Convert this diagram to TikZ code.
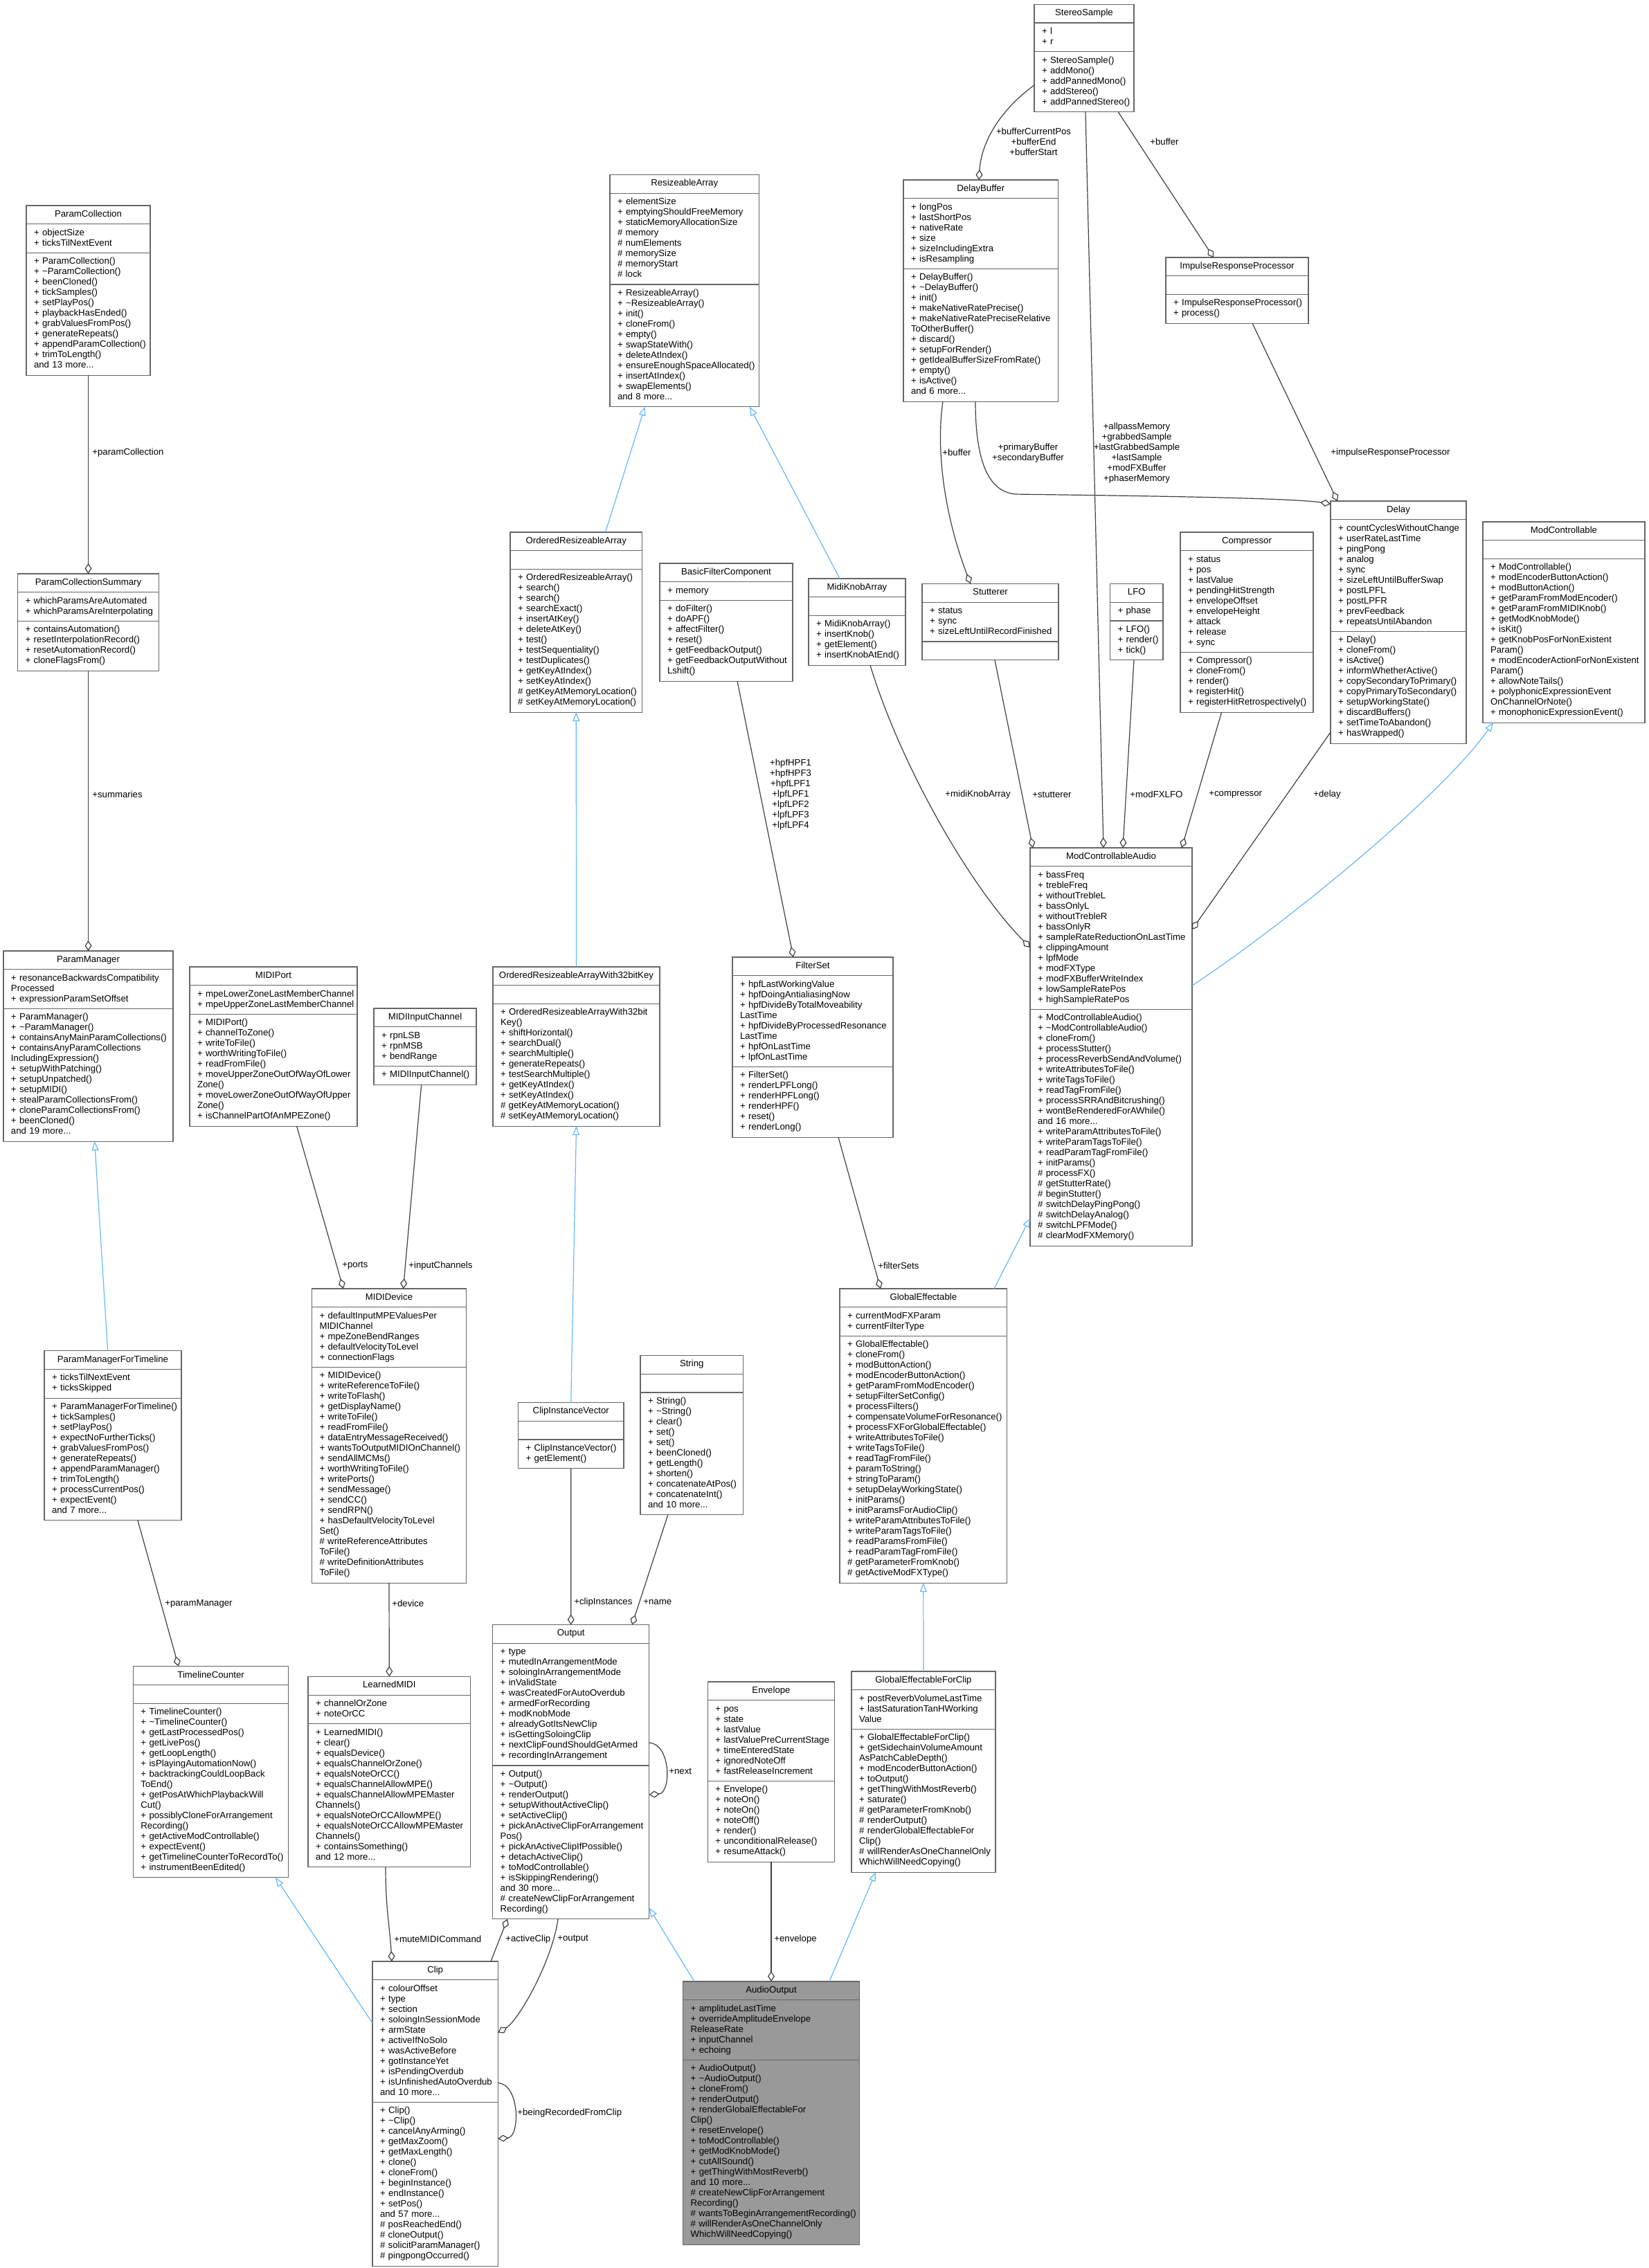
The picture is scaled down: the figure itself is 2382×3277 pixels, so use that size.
\documentclass[tikz,border=0pt]{standalone}
\usepackage{fontspec}
\setmainfont{Liberation Sans}
\usetikzlibrary{shapes.multipart,arrows.meta,calc}

\definecolor{boxgray}{HTML}{666666}
\definecolor{edgegray}{HTML}{404040}
\definecolor{inhblue}{HTML}{63B8FF}
\definecolor{aogray}{HTML}{999999}

\def\umlfont{\fontsize{6.6pt}{7.5pt}\selectfont\hyphenpenalty=10000\exhyphenpenalty=10000}
\def\umlclass[#1](#2)(#3,#4:#5)#6#7#8{%
	\pgfmathsetlengthmacro\boxtw{(#5-22)*0.5pt}%
	\node[classbox, text width=\boxtw, #1] (#2) at (#3,#4)
		{\hbox to \boxtw{\hss\strut#6\strut\hss}\nodepart{two}\strut#7\strut\nodepart{three}\strut#8\strut};}

\tikzset{
	classbox/.style={rectangle split, rectangle split parts=3, draw=boxgray, line width=0.6pt, fill=white,
		anchor=north west, inner xsep=5.5pt, inner ysep=2.625pt, outer sep=0pt, align=left, font=\umlfont},
	aggr/.style={draw=edgegray, line width=0.6pt, {Diamond[open,length=7.5pt,width=5pt]}-},
	inh/.style={draw=inhblue, line width=0.6pt, {Triangle[open,length=6.5pt,width=5pt]}-},
	elabel/.style={font=\umlfont, inner sep=0pt, anchor=west},
	mlabel/.style={font=\umlfont, inner sep=0pt, align=center},
}

\begin{document}
\begin{tikzpicture}[x=0.5pt, y=-0.5pt]
			%%%%% START %%%%%
			\path[use as bounding box, fill=white] (0,0) rectangle (2382,3277);
			
			% top rows
			\umlclass[](pcoll)(38,297:179){ParamCollection}
				{+~objectSize\\+~ticksTilNextEvent}
				{+~ParamCollection()\\+~\textasciitilde ParamCollection()\\+~beenCloned()\\+~tickSamples()\\+~setPlayPos()\\+~playbackHasEnded()\\+~grabValuesFromPos()\\+~generateRepeats()\\+~appendParamCollection()\\+~trimToLength()\\and 13 more...}
			\umlclass[](rarr)(881,252.6:215.4){ResizeableArray}
				{+~elementSize\\+~emptyingShouldFreeMemory\\+~staticMemoryAllocationSize\\\#~memory\\\#~numElements\\\#~memorySize\\\#~memoryStart\\\#~lock}
				{+~ResizeableArray()\\+~\textasciitilde ResizeableArray()\\+~init()\\+~cloneFrom()\\+~empty()\\+~swapStateWith()\\+~deleteAtIndex()\\+~ensureEnoughSpaceAllocated()\\+~insertAtIndex()\\+~swapElements()\\and 8 more...}
			\umlclass[](stereo)(1494,6.3:144){StereoSample}
				{+~l\\+~r}
				{+~StereoSample()\\+~addMono()\\+~addPannedMono()\\+~addStereo()\\+~addPannedStereo()}
			\umlclass[](dbuf)(1305,260:223.6){DelayBuffer}
				{+~longPos\\+~lastShortPos\\+~nativeRate\\+~size\\+~sizeIncludingExtra\\+~isResampling}
				{+~DelayBuffer()\\+~\textasciitilde DelayBuffer()\\+~init()\\+~makeNativeRatePrecise()\\+~makeNativeRatePreciseRelative\\ToOtherBuffer()\\+~discard()\\+~setupForRender()\\+~getIdealBufferSizeFromRate()\\+~empty()\\+~isActive()\\and 6 more...}
			\umlclass[](irp)(1684,372:206){ImpulseResponseProcessor}
				{}
				{+~ImpulseResponseProcessor()\\+~process()}
			
			% effect classes
			\umlclass[](pcsum)(25.5,829:204){ParamCollectionSummary}
				{+~whichParamsAreAutomated\\+~whichParamsAreInterpolating}
				{+~containsAutomation()\\+~resetInterpolationRecord()\\+~resetAutomationRecord()\\+~cloneFlagsFrom()}
			\umlclass[](ora)(737,769:190.5){OrderedResizeableArray}
				{}
				{+~OrderedResizeableArray()\\+~search()\\+~search()\\+~searchExact()\\+~insertAtKey()\\+~deleteAtKey()\\+~test()\\+~testSequentiality()\\+~testDuplicates()\\+~getKeyAtIndex()\\+~setKeyAtIndex()\\\#~getKeyAtMemoryLocation()\\\#~setKeyAtMemoryLocation()}
			\umlclass[](bfc)(953,814:192){BasicFilterComponent}
				{+~memory}
				{+~doFilter()\\+~doAPF()\\+~affectFilter()\\+~reset()\\+~getFeedbackOutput()\\+~getFeedbackOutputWithout\\Lshift()}
			\umlclass[](mknob)(1168,836:140){MidiKnobArray}
				{}
				{+~MidiKnobArray()\\+~insertKnob()\\+~getElement()\\+~insertKnobAtEnd()}
			\umlclass[](stut)(1332,843.5:197){Stutterer}
				{+~status\\+~sync\\+~sizeLeftUntilRecordFinished}
				{}
			\umlclass[](lfo)(1603.5,843.5:76.5){LFO}
				{+~phase}
				{+~LFO()\\+~render()\\+~tick()}
			\umlclass[](comp)(1705,769:192){Compressor}
				{+~status\\+~pos\\+~lastValue\\+~pendingHitStrength\\+~envelopeOffset\\+~envelopeHeight\\+~attack\\+~release\\+~sync}
				{+~Compressor()\\+~cloneFrom()\\+~render()\\+~registerHit()\\+~registerHitRetrospectively()}
			\umlclass[](delay)(1922,724:196){Delay}
				{+~countCyclesWithoutChange\\+~userRateLastTime\\+~pingPong\\+~analog\\+~sync\\+~sizeLeftUntilBufferSwap\\+~postLPFL\\+~postLPFR\\+~prevFeedback\\+~repeatsUntilAbandon}
				{+~Delay()\\+~cloneFrom()\\+~isActive()\\+~informWhetherActive()\\+~copySecondaryToPrimary()\\+~copyPrimaryToSecondary()\\+~setupWorkingState()\\+~discardBuffers()\\+~setTimeToAbandon()\\+~hasWrapped()}
			\umlclass[](modc)(2142,754:234){ModControllable}
				{}
				{+~ModControllable()\\+~modEncoderButtonAction()\\+~modButtonAction()\\+~getParamFromModEncoder()\\+~getParamFromMIDIKnob()\\+~getModKnobMode()\\+~isKit()\\+~getKnobPosForNonExistent\\Param()\\+~modEncoderActionForNonExistent\\Param()\\+~allowNoteTails()\\+~polyphonicExpressionEvent\\OnChannelOrNote()\\+~monophonicExpressionEvent()}
			
			% middle rows
			\umlclass[](pman)(5,1374:245){ParamManager}
				{+~resonanceBackwardsCompatibility\\Processed\\+~expressionParamSetOffset}
				{+~ParamManager()\\+~\textasciitilde ParamManager()\\+~containsAnyMainParamCollections()\\+~containsAnyParamCollections\\IncludingExpression()\\+~setupWithPatching()\\+~setupUnpatched()\\+~setupMIDI()\\+~stealParamCollectionsFrom()\\+~cloneParamCollectionsFrom()\\+~beenCloned()\\and 19 more...}
			\umlclass[](mport)(274,1397:242){MIDIPort}
				{+~mpeLowerZoneLastMemberChannel\\+~mpeUpperZoneLastMemberChannel}
				{+~MIDIPort()\\+~channelToZone()\\+~writeToFile()\\+~worthWritingToFile()\\+~readFromFile()\\+~moveUpperZoneOutOfWayOfLower\\Zone()\\+~moveLowerZoneOutOfWayOfUpper\\Zone()\\+~isChannelPartOfAnMPEZone()}
			\umlclass[](minch)(540,1457:148){MIDIInputChannel}
				{+~rpnLSB\\+~rpnMSB\\+~bendRange}
				{+~MIDIInputChannel()}
			\umlclass[](ora32)(712,1397:241){OrderedResizeableArrayWith32bitKey}
				{}
				{+~OrderedResizeableArrayWith32bit\\Key()\\+~shiftHorizontal()\\+~searchDual()\\+~searchMultiple()\\+~generateRepeats()\\+~testSearchMultiple()\\+~getKeyAtIndex()\\+~setKeyAtIndex()\\\#~getKeyAtMemoryLocation()\\\#~setKeyAtMemoryLocation()}
			\umlclass[](fset)(1058,1383:232){FilterSet}
				{+~hpfLastWorkingValue\\+~hpfDoingAntialiasingNow\\+~hpfDivideByTotalMoveability\\LastTime\\+~hpfDivideByProcessedResonance\\LastTime\\+~hpfOnLastTime\\+~lpfOnLastTime}
				{+~FilterSet()\\+~renderLPFLong()\\+~renderHPFLong()\\+~renderHPF()\\+~reset()\\+~renderLong()}
			\umlclass[](mca)(1488,1225:234){ModControllableAudio}
				{+~bassFreq\\+~trebleFreq\\+~withoutTrebleL\\+~bassOnlyL\\+~withoutTrebleR\\+~bassOnlyR\\+~sampleRateReductionOnLastTime\\+~clippingAmount\\+~lpfMode\\+~modFXType\\+~modFXBufferWriteIndex\\+~lowSampleRatePos\\+~highSampleRatePos}
				{+~ModControllableAudio()\\+~\textasciitilde ModControllableAudio()\\+~cloneFrom()\\+~processStutter()\\+~processReverbSendAndVolume()\\+~writeAttributesToFile()\\+~writeTagsToFile()\\+~readTagFromFile()\\+~processSRRAndBitcrushing()\\+~wontBeRenderedForAWhile()\\and 16 more...\\+~writeParamAttributesToFile()\\+~writeParamTagsToFile()\\+~readParamTagFromFile()\\+~initParams()\\\#~processFX()\\\#~getStutterRate()\\\#~beginStutter()\\\#~switchDelayPingPong()\\\#~switchDelayAnalog()\\\#~switchLPFMode()\\\#~clearModFXMemory()}
			
			\umlclass[](mdev)(450.5,1862:223){MIDIDevice}
				{+~defaultInputMPEValuesPer\\MIDIChannel\\+~mpeZoneBendRanges\\+~defaultVelocityToLevel\\+~connectionFlags}
				{+~MIDIDevice()\\+~writeReferenceToFile()\\+~writeToFlash()\\+~getDisplayName()\\+~writeToFile()\\+~readFromFile()\\+~dataEntryMessageReceived()\\+~wantsToOutputMIDIOnChannel()\\+~sendAllMCMs()\\+~worthWritingToFile()\\+~writePorts()\\+~sendMessage()\\+~sendCC()\\+~sendRPN()\\+~hasDefaultVelocityToLevel\\Set()\\\#~writeReferenceAttributes\\ToFile()\\\#~writeDefinitionAttributes\\ToFile()}
			\umlclass[](geff)(1213,1862:241.6){GlobalEffectable}
				{+~currentModFXParam\\+~currentFilterType}
				{+~GlobalEffectable()\\+~cloneFrom()\\+~modButtonAction()\\+~modEncoderButtonAction()\\+~getParamFromModEncoder()\\+~setupFilterSetConfig()\\+~processFilters()\\+~compensateVolumeForResonance()\\+~processFXForGlobalEffectable()\\+~writeAttributesToFile()\\+~writeTagsToFile()\\+~readTagFromFile()\\+~paramToString()\\+~stringToParam()\\+~setupDelayWorkingState()\\+~initParams()\\+~initParamsForAudioClip()\\+~writeParamAttributesToFile()\\+~writeParamTagsToFile()\\+~readParamsFromFile()\\+~readParamTagFromFile()\\\#~getParameterFromKnob()\\\#~getActiveModFXType()}
			\umlclass[](pmft)(64,1951.7:198){ParamManagerForTimeline}
				{+~ticksTilNextEvent\\+~ticksSkipped}
				{+~ParamManagerForTimeline()\\+~tickSamples()\\+~setPlayPos()\\+~expectNoFurtherTicks()\\+~grabValuesFromPos()\\+~generateRepeats()\\+~appendParamManager()\\+~trimToLength()\\+~processCurrentPos()\\+~expectEvent()\\and 7 more...}
			\umlclass[](str)(925,1958.6:148.5){String}
				{}
				{+~String()\\+~\textasciitilde String()\\+~clear()\\+~set()\\+~set()\\+~beenCloned()\\+~getLength()\\+~shorten()\\+~concatenateAtPos()\\+~concatenateInt()\\and 10 more...}
			\umlclass[](civ)(748.5,2026.5:152.5){ClipInstanceVector}
				{}
				{+~ClipInstanceVector()\\+~getElement()}
			
			% bottom rows
			\umlclass[](out)(711.7,2347.6:226){Output}
				{+~type\\+~mutedInArrangementMode\\+~soloingInArrangementMode\\+~inValidState\\+~wasCreatedForAutoOverdub\\+~armedForRecording\\+~modKnobMode\\+~alreadyGotItsNewClip\\+~isGettingSoloingClip\\+~nextClipFoundShouldGetArmed\\+~recordingInArrangement}
				{+~Output()\\+~\textasciitilde Output()\\+~renderOutput()\\+~setupWithoutActiveClip()\\+~setActiveClip()\\+~pickAnActiveClipForArrangement\\Pos()\\+~pickAnActiveClipIfPossible()\\+~detachActiveClip()\\+~toModControllable()\\+~isSkippingRendering()\\and 30 more...\\\#~createNewClipForArrangement\\Recording()}
			\umlclass[](tcount)(192.4,2407.7:224.4){TimelineCounter}
				{}
				{+~TimelineCounter()\\+~\textasciitilde TimelineCounter()\\+~getLastProcessedPos()\\+~getLivePos()\\+~getLoopLength()\\+~isPlayingAutomationNow()\\+~backtrackingCouldLoopBack\\ToEnd()\\+~getPosAtWhichPlaybackWill\\Cut()\\+~possiblyCloneForArrangement\\Recording()\\+~getActiveModControllable()\\+~expectEvent()\\+~getTimelineCounterToRecordTo()\\+~instrumentBeenEdited()}
			\umlclass[](lmidi)(445,2422.4:234.6){LearnedMIDI}
				{+~channelOrZone\\+~noteOrCC}
				{+~LearnedMIDI()\\+~clear()\\+~equalsDevice()\\+~equalsChannelOrZone()\\+~equalsNoteOrCC()\\+~equalsChannelAllowMPE()\\+~equalsChannelAllowMPEMaster\\Channels()\\+~equalsNoteOrCCAllowMPE()\\+~equalsNoteOrCCAllowMPEMaster\\Channels()\\+~containsSomething()\\and 12 more...}
			\umlclass[](env)(1022.4,2430:183.2){Envelope}
				{+~pos\\+~state\\+~lastValue\\+~lastValuePreCurrentStage\\+~timeEnteredState\\+~ignoredNoteOff\\+~fastReleaseIncrement}
				{+~Envelope()\\+~noteOn()\\+~noteOn()\\+~noteOff()\\+~render()\\+~unconditionalRelease()\\+~resumeAttack()}
			\umlclass[](gefc)(1230,2415:208){GlobalEffectableForClip}
				{+~postReverbVolumeLastTime\\+~lastSaturationTanHWorking\\Value}
				{+~GlobalEffectableForClip()\\+~getSidechainVolumeAmount\\AsPatchCableDepth()\\+~modEncoderButtonAction()\\+~toOutput()\\+~getThingWithMostReverb()\\+~saturate()\\\#~getParameterFromKnob()\\\#~renderOutput()\\\#~renderGlobalEffectableFor\\Clip()\\\#~willRenderAsOneChannelOnly\\WhichWillNeedCopying()}
			\umlclass[](clip)(538,2834:181.4){Clip}
				{+~colourOffset\\+~type\\+~section\\+~soloingInSessionMode\\+~armState\\+~activeIfNoSolo\\+~wasActiveBefore\\+~gotInstanceYet\\+~isPendingOverdub\\+~isUnfinishedAutoOverdub\\and 10 more...}
				{+~Clip()\\+~\textasciitilde Clip()\\+~cancelAnyArming()\\+~getMaxZoom()\\+~getMaxLength()\\+~clone()\\+~cloneFrom()\\+~beginInstance()\\+~endInstance()\\+~setPos()\\and 57 more...\\\#~posReachedEnd()\\\#~cloneOutput()\\\#~solicitParamManager()\\\#~pingpongOccurred()}
			\umlclass[fill=aogray](aout)(986.7,2863:254.6){AudioOutput}
				{+~amplitudeLastTime\\+~overrideAmplitudeEnvelope\\ReleaseRate\\+~inputChannel\\+~echoing}
				{+~AudioOutput()\\+~\textasciitilde AudioOutput()\\+~cloneFrom()\\+~renderOutput()\\+~renderGlobalEffectableFor\\Clip()\\+~resetEnvelope()\\+~toModControllable()\\+~getModKnobMode()\\+~cutAllSound()\\+~getThingWithMostReverb()\\and 10 more...\\\#~createNewClipForArrangement\\Recording()\\\#~wantsToBeginArrangementRecording()\\\#~willRenderAsOneChannelOnly\\WhichWillNeedCopying()}
			
			% members (diamond at the owner)
			\draw[aggr] (pcsum.north) -- (pcoll.south);
			\draw[aggr] (pman.north) -- (pcsum.south);
			\draw[aggr] ($(tcount.north west)+(65.5,0)$) -- ($(pmft.south west)+(135,0)$);
			\draw[aggr] ($(mdev.north west)+(45.5,0)$) -- ($(mport.south west)+(154.6,0)$);
			\draw[aggr] ($(mdev.north west)+(132,0)$) -- ($(minch.south west)+(68.7,0)$);
			\draw[aggr] (lmidi.north) -- (mdev.south);
			\draw[aggr] ($(clip.north west)+(28,0)$) .. controls +(-3,-50) and +(0,60) .. ($(lmidi.south west)+(112,0)$);
			\draw[aggr] ($(out.south west)+(21.3,0)$) -- ($(clip.north west)+(171,0)$);
			\draw[aggr] ($(clip.north east)+(0,103)$) .. controls +(30,-18) and +(-8,60) .. ($(out.south west)+(94.3,0)$);
			\draw[aggr] ($(clip.north east)+(0,256)$) .. controls +(32,-2) and +(32,2) .. ($(clip.north east)+(0,175.6)$);
			\draw[aggr] (out.north) -- (civ.south);
			\draw[aggr] ($(out.north west)+(201.3,0)$) -- ($(str.south west)+(39.8,0)$);
			\draw[aggr] ($(out.north east)+(0,245.4)$) .. controls +(32,-2) and +(32,2) .. ($(out.north east)+(0,170.4)$);
			\draw[aggr] (aout.north) -- (env.south);
			\draw[aggr] ($(fset.north west)+(88,0)$) -- ($(bfc.south west)+(112,0)$);
			\draw[aggr] ($(geff.north west)+(59,0)$) -- ($(fset.south west)+(153,0)$);
			\draw[aggr] ($(dbuf.north west)+(109,0)$) .. controls +(4,-60) and +(-44,32) .. ($(stereo.north west)+(0,116.7)$);
			\draw[aggr] ($(irp.north west)+(69,0)$) -- ($(stereo.south west)+(121,0)$);
			\draw[aggr] ($(mca.north west)+(106,0)$) -- ($(stereo.south west)+(74,0)$);
			\draw[aggr] ($(delay.north west)+(10,0)$) -- ($(irp.south west)+(125,0)$);
			\draw[aggr] ($(stut.north west)+(70,0)$) .. controls +(-32,-83) and +(-12,83) .. ($(dbuf.south west)+(57,0)$);
			\draw[aggr] ($(delay.north west)+(0,4)$) .. controls +(-60,-9) and +(150,2) .. ($(dbuf.south west)+(165,134)$)
				.. controls +(-45,-1) and +(0,80) .. ($(dbuf.south west)+(104,0)$);
			\draw[aggr] ($(mca.north west)+(4,0)$) -- ($(stut.south west)+(105,0)$);
			\draw[aggr] ($(mca.north west)+(0,144)$) .. controls +(-88,-89) and +(43,142) .. ($(mknob.south west)+(89,0)$);
			\draw[aggr] ($(mca.north west)+(134,0)$) -- ($(lfo.south west)+(34.5,0)$);
			\draw[aggr] ($(mca.north west)+(219,0)$) -- ($(comp.south west)+(59.6,0)$);
			\draw[aggr] ($(mca.north east)+(0,118)$) -- ($(delay.north west)+(0,334)$);
			
			% inheritance (triangle at the base class)
			\draw[inh] ($(pman.south west)+(131.7,0)$) -- ($(pmft.north west)+(91.6,0)$);
			\draw[inh] ($(tcount.south west)+(205.6,0)$) -- ($(clip.north west)+(0,89)$);
			\draw[inh] ($(rarr.south west)+(50.6,0)$) -- ($(ora.north west)+(137.5,0)$);
			\draw[inh] ($(rarr.south west)+(202,0)$) -- ($(mknob.north west)+(45,0)$);
			\draw[inh] (ora.south) -- (ora32.north);
			\draw[inh] (ora32.south) -- (civ.north);
			\draw[inh] ($(modc.south west)+(15,0)$) .. controls +(-77,109) and +(128,-84) .. ($(mca.north east)+(0,199)$);
			\draw[inh] ($(mca.south west)+(0,-40)$) -- ($(geff.north west)+(223,0)$);
			\draw[inh] (geff.south) -- (gefc.north);
			\draw[inh] ($(out.south east)+(0,-16)$) -- ($(aout.north west)+(16.3,0)$);
			\draw[inh] ($(gefc.south west)+(35,0)$) -- ($(aout.north west)+(211.3,0)$);
			
			% edge labels
			\node[elabel] (l-pcoll) at (133,654) {+paramCollection};
			\node[elabel] (l-summ) at (133,1148) {+summaries};
			\node[elabel] (l-pman) at (238,2317) {+paramManager};
			\node[elabel] (l-ports) at (494,1829) {+ports};
			\node[elabel] (l-inch) at (590,1829) {+inputChannels};
			\node[elabel] (l-device) at (566,2317) {+device};
			\node[elabel] (l-mute) at (569,2802) {+muteMIDICommand};
			\node[elabel] (l-aclip) at (730,2802) {+activeClip};
			\node[elabel] (l-output) at (805,2802) {+output};
			\node[elabel] (l-brec) at (747,3053) {+beingRecordedFromClip};
			\node[elabel] (l-cinst) at (829,2315) {+clipInstances};
			\node[elabel] (l-name) at (929,2315) {+name};
			\node[elabel] (l-next) at (966,2559) {+next};
			\node[elabel] (l-env) at (1118,2802) {+envelope};
			\node[mlabel] (l-hpf) at (1142,1148) {+hpfHPF1\\+hpfHPF3\\+hpfLPF1\\+lpfLPF1\\+lpfLPF2\\+lpfLPF3\\+lpfLPF4};
			\node[elabel] (l-fsets) at (1268,1829) {+filterSets};
			\node[mlabel] (l-bpos) at (1493,205) {+bufferCurrentPos\\+bufferEnd\\+bufferStart};
			\node[elabel] (l-ibuf) at (1661,205) {+buffer};
			\node[mlabel] (l-mem) at (1642,654.5) {+allpassMemory\\+grabbedSample\\+lastGrabbedSample\\+lastSample\\+modFXBuffer\\+phaserMemory};
			\node[elabel] (l-irp) at (1922,654) {+impulseResponseProcessor};
			\node[elabel] (l-sbuf) at (1361,654) {+buffer};
			\node[mlabel] (l-pbuf) at (1485,655) {+primaryBuffer\\+secondaryBuffer};
			\node[elabel] (l-stut) at (1491,1148) {+stutterer};
			\node[elabel] (l-knob) at (1365,1148) {+midiKnobArray};
			\node[elabel] (l-lfo) at (1632,1148) {+modFXLFO};
			\node[elabel] (l-comp) at (1746,1148) {+compressor};
			\node[elabel] (l-delay) at (1897,1148) {+delay};
			
			%%%%% END %%%%%
\end{tikzpicture}
\end{document}
